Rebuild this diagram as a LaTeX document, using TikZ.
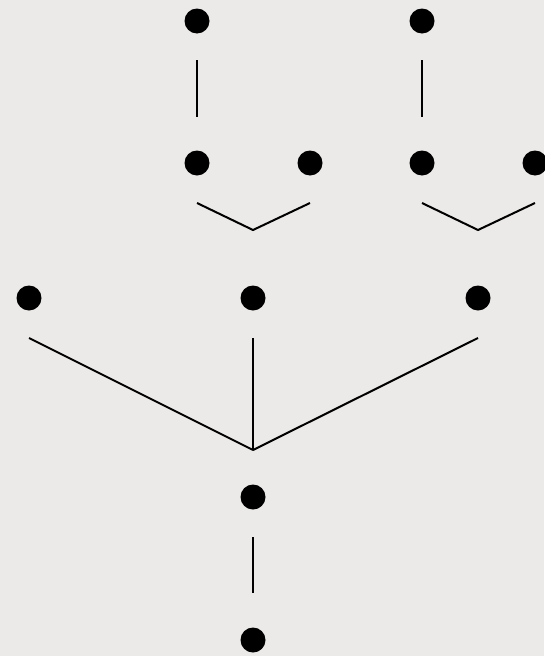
\documentclass[tikz,border=0pt]{standalone}
\usepackage{tikz}
\usetikzlibrary{calc}
\definecolor{paper}{HTML}{ECEAE8}
\tikzset{leafdot/.style={circle,fill=black,inner sep=0pt,minimum size=25pt},treeline/.style={line width=2pt,draw=black}}
\begin{document}
\begin{tikzpicture}[x=1pt,y=-1pt]
\fill[paper] (0,0) rectangle (544,656);
\useasboundingbox (0,0) rectangle (544,656);
\node[leafdot] (t1) at (197,21) {};
\node[leafdot] (t2) at (422,21) {};
\node[leafdot] (m1) at (197,163) {};
\node[leafdot] (m2) at (310,163) {};
\node[leafdot] (m3) at (422,163) {};
\node[leafdot] (m4) at (535,163) {};
\node[leafdot] (b1) at (29,298) {};
\node[leafdot] (b2) at (253,298) {};
\node[leafdot] (b3) at (478,298) {};
\node[leafdot] (r1) at (253,497) {};
\node[leafdot] (r2) at (253,640) {};
\coordinate (j1) at (253,230);
\coordinate (j2) at (478,230);
\coordinate (j3) at (253,450);
\draw[treeline,shorten <=39pt,shorten >=46pt] (t1.center)--(m1.center);
\draw[treeline,shorten <=39pt,shorten >=46pt] (t2.center)--(m3.center);
\draw[treeline] ($(m1)+(0,40)$)--(j1)--($(m2)+(0,40)$);
\draw[treeline] ($(m3)+(0,40)$)--(j2)--($(m4)+(0,40)$);
\foreach \n in {b1,b2,b3} \draw[treeline] ($(\n)+(0,40)$)--(j3);
\draw[treeline,shorten <=40pt,shorten >=47pt] (r1.center)--(r2.center);
\end{tikzpicture}
\end{document}
